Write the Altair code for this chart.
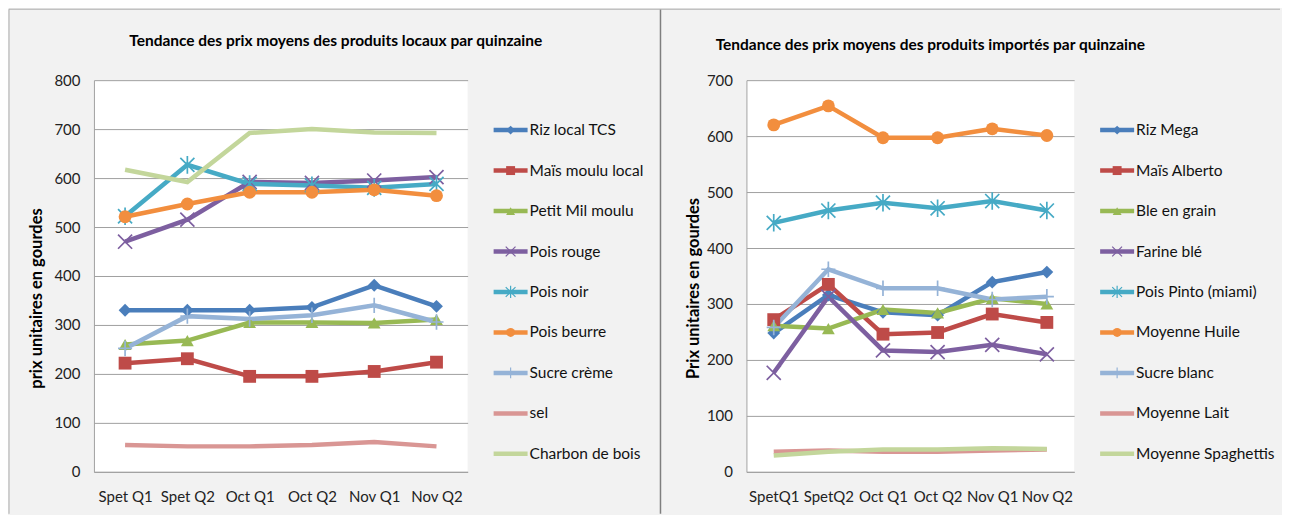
import altair as alt
import pandas as pd

# ---------------- data ----------------
periodes_locaux = ["Spet Q1", "Spet Q2", "Oct Q1", "Oct Q2", "Nov Q1", "Nov Q2"]
periodes_importes = ["SpetQ1", "SpetQ2", "Oct Q1", "Oct Q2", "Nov Q1", "Nov Q2"]

noms_locaux = ["Riz local TCS", "Maïs moulu local", "Petit Mil moulu", "Pois rouge",
               "Pois noir", "Pois beurre", "Sucre crème", "sel", "Charbon de bois"]
riz_local = [330, 330, 330, 336, 381, 338]
mais_moulu = [222, 231, 195, 195, 205, 224]
petit_mil = [260, 268, 305, 305, 304, 311]
pois_rouge = [470, 515, 592, 590, 595, 602]
pois_noir = [522, 627, 588, 585, 580, 588]
pois_beurre = [521, 547, 571, 571, 576, 564]
sucre_creme = [252, 318, 312, 320, 340, 306]
sel = [55, 52, 52, 55, 61, 52]
charbon = [617, 592, 692, 700, 693, 692]
valeurs_locaux = [riz_local, mais_moulu, petit_mil, pois_rouge, pois_noir,
                  pois_beurre, sucre_creme, sel, charbon]

noms_importes = ["Riz Mega", "Maïs Alberto", "Ble en grain", "Farine blé",
                 "Pois Pinto (miami)", "Moyenne Huile", "Sucre blanc",
                 "Moyenne Lait", "Moyenne Spaghettis"]
riz_mega = [248, 316, 285, 280, 339, 357]
mais_alberto = [272, 335, 246, 249, 282, 267]
ble_grain = [261, 256, 290, 284, 310, 300]
farine_ble = [177, 313, 217, 214, 227, 210]
pois_pinto = [445, 467, 481, 471, 484, 467]
huile = [620, 654, 597, 597, 613, 601]
sucre_blanc = [258, 362, 328, 328, 308, 313]
lait = [36, 38, 36, 36, 38, 40]
spaghettis = [29, 36, 40, 40, 42, 41]
valeurs_importes = [riz_mega, mais_alberto, ble_grain, farine_ble, pois_pinto,
                    huile, sucre_blanc, lait, spaghettis]

# ---------------- style ----------------
FONT = "Lato"
couleurs = ["#4A7EBB", "#BE4B48", "#98B954", "#7D5FA0", "#46AAC5",
            "#F28E3E", "#95B3D7", "#D99694", "#C3D69B"]
X_PATH = "M-1,-1L1,1M-1,1L1,-1"
AST_PATH = "M-1,-1L1,1M-1,1L1,-1M0,-1.25L0,1.25"
PLUS_PATH = "M0,-1.1L0,1.1M-1,0L1,0"
# index -> (shape, filled)
marqueurs = {0: ("diamond", True), 1: ("square", True), 2: ("triangle-up", True),
             3: (X_PATH, False), 4: (AST_PATH, False), 5: ("circle", True),
             6: (PLUS_PATH, False)}

GRID = "#A0A0A0"


def long_df(noms, valeurs, periodes):
    rows = []
    for n, vals in zip(noms, valeurs):
        for p, v in zip(periodes, vals):
            rows.append({"serie": n, "periode": p, "prix": v})
    return pd.DataFrame(rows)


def marker_layers(base, noms, x, y, color, size, sw):
    layers = []
    for i, (shape, filled) in marqueurs.items():
        m = base.transform_filter(alt.datum.serie == noms[i])
        if filled:
            mk = m.mark_point(shape=shape, filled=True, size=size, opacity=1)
        else:
            mk = m.mark_point(shape=shape, filled=False, size=size * 1.2,
                              strokeWidth=sw, opacity=1)
        layers.append(mk.encode(x=x, y=y, color=color))
    return layers


def plot_chart(noms, valeurs, periodes, ymax, width, ytitle, titre, dx,
               tx, ty, toff):
    df = long_df(noms, valeurs, periodes)
    base = alt.Chart(df)
    color = alt.Color("serie:N", scale=alt.Scale(domain=noms, range=couleurs),
                      legend=None)
    x = alt.X("periode:N", sort=periodes,
              scale=alt.Scale(type="point", padding=0.5),
              axis=alt.Axis(title=None, labelAngle=0, ticks=False, grid=False,
                            domainColor=GRID, labelPadding=18, labelFontSize=15,
                            labelFont=FONT, labelColor="#222"))
    y = alt.Y("prix:Q", scale=alt.Scale(domain=[0, ymax], nice=False),
              axis=alt.Axis(values=list(range(0, ymax + 1, 100)), ticks=False,
                            grid=True, gridColor=GRID, domainColor=GRID,
                            labelPadding=14, labelFontSize=15, labelFont=FONT,
                            labelColor="#222", title=ytitle, titleFont=FONT,
                            titleFontSize=16.5, titleFontWeight="bold",
                            titleColor="#000", titleX=tx, titleY=ty,
                            titleAlign="center",
                            titleBaseline="middle", titleAngle=270))
    lines = base.mark_line(strokeWidth=4.5).encode(x=x, y=y, color=color)
    layers = [lines] + marker_layers(base, noms, x, y, color, 165, 1.7)
    return alt.layer(*layers).properties(
        width=width, height=392,
        view=alt.ViewBackground(fill="white"),
        title=alt.TitleParams(titre, font=FONT, fontSize=15.5, fontWeight="bold",
                              color="#000", anchor="middle", dx=dx,
                              frame="group", baseline="alphabetic",
                              offset=toff),
    )


def legend_chart(noms, width):
    df = pd.DataFrame({"serie": noms})
    base = alt.Chart(df)
    color = alt.Color("serie:N", scale=alt.Scale(domain=noms, range=couleurs),
                      legend=None)
    y = alt.Y("serie:N", sort=noms, axis=None,
              scale=alt.Scale(type="point", domain=noms, range=[50, 374],
                              padding=0))
    rule = base.mark_rule(strokeWidth=4.5).encode(
        x=alt.value(0), x2=alt.value(34), y=y, color=color)
    txt = base.mark_text(align="left", baseline="middle", font=FONT,
                         fontSize=15.5, color="#111").encode(
        x=alt.value(36), y=y, text="serie:N")
    layers = [rule] + marker_layers(base, noms, alt.value(17), y, color, 80, 1.2) + [txt]
    return alt.layer(*layers).properties(width=width, height=392)


gauche = plot_chart(noms_locaux, valeurs_locaux, periodes_locaux, 800, 374,
                    "prix unitaires en gourdes",
                    "Tendance des prix moyens des produits locaux par quinzaine",
                    55, -57, 218, 12)
leg_gauche = legend_chart(noms_locaux, 141)

droite = plot_chart(noms_importes, valeurs_importes, periodes_importes, 700, 328,
                    "Prix unitaires en gourdes",
                    "Tendance des prix moyens des produits importés par quinzaine",
                    20, -53, 208, 8)
leg_droite = legend_chart(noms_importes, 182)

sep_df = pd.DataFrame({"k": [0]})
sep_base = alt.Chart(sep_df)
separateur = alt.layer(
    sep_base.mark_rule(color="#7F7F7F", strokeWidth=1.5).encode(
        x=alt.value(0), y=alt.value(-71), y2=alt.value(434)),
    sep_base.mark_rule(color="#ABABAB", strokeWidth=1).encode(
        x=alt.value(-652), x2=alt.value(620), y=alt.value(-71)),
    sep_base.mark_rule(color="#ABABAB", strokeWidth=1).encode(
        x=alt.value(-652), y=alt.value(-71), y2=alt.value(434)),
).properties(width=60, height=392)

chart = alt.hconcat(gauche, leg_gauche, separateur, droite, leg_droite,
                    spacing=26, bounds="flush", padding=0,
                    background="#F2F2F2").configure_view(stroke=None)

chart.save("out.html", embed_options={"renderer": "svg", "actions": False})
